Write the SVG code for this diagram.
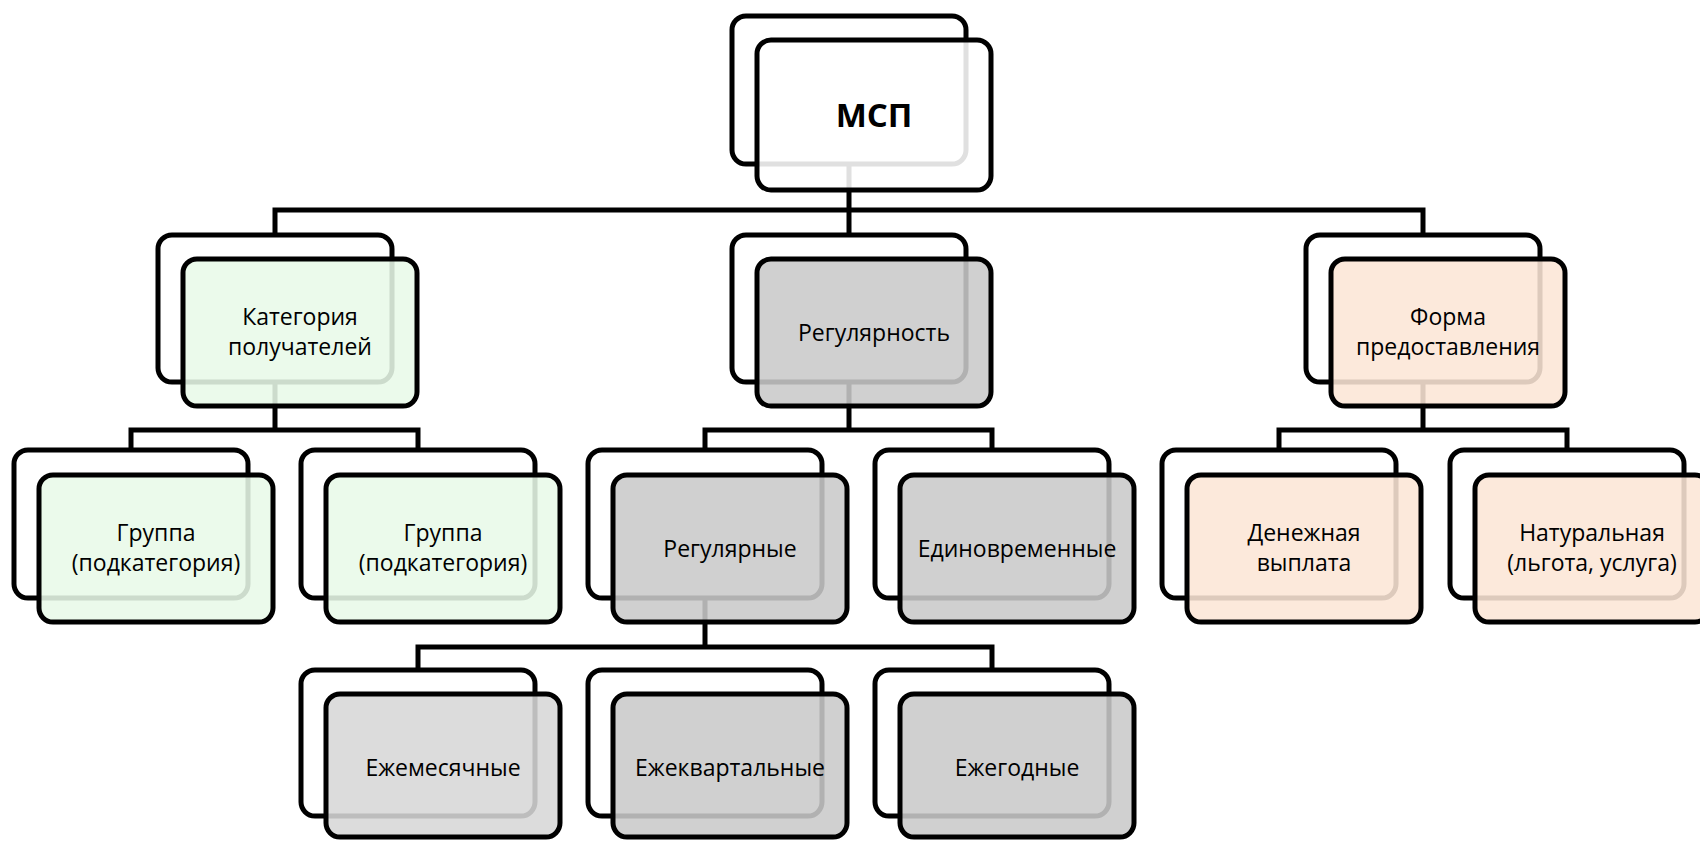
<svg xmlns="http://www.w3.org/2000/svg" width="1700" height="841" viewBox="0 0 1700 841">
<style>
.bk{fill:#ffffff;stroke:#000;stroke-width:5}
.fr{stroke:#000;stroke-width:5;fill-opacity:0.88}
.w{fill:#ffffff}.g{fill:#cacaca}.lg{fill:#d7d7d7}.gr{fill:#e8f9e8}.pc{fill:#fce6d6}
.conn{fill:none;stroke:#000;stroke-width:5;stroke-linejoin:miter}
text{font-family:"Open Sans","DejaVu Sans",sans-serif;font-size:23px;fill:#000;text-anchor:middle}
.big{font-size:33px;font-weight:bold}
</style>
<rect width="1700" height="841" fill="#fff"/>
<g id="connectors" class="conn">
<path d="M849 163V210M275 235V210H1423V235M849 210V235"/>
<path d="M275 382V430M131 450V430H418V450"/>
<path d="M849 382V430M705 450V430H992V450"/>
<path d="M1423 382V430M1279 450V430H1567V450"/>
<path d="M705 597V647M418 670V647H992V670"/>
</g>
<g id="msp"><rect class="bk" x="732" y="16" width="234" height="148" rx="14"/><rect class="fr w" x="757" y="40" width="234" height="150" rx="14"/><text class="big" x="874" y="127">МСП</text></g>
<g id="category"><rect class="bk" x="158" y="235" width="234" height="147" rx="14"/><rect class="fr gr" x="183" y="259" width="234" height="147" rx="14"/><text x="300" y="325">Категория</text><text x="300" y="355">получателей</text></g>
<g id="regularity"><rect class="bk" x="732" y="235" width="234" height="147" rx="14"/><rect class="fr g" x="757" y="259" width="234" height="147" rx="14"/><text x="874" y="341">Регулярность</text></g>
<g id="form"><rect class="bk" x="1306" y="235" width="234" height="147" rx="14"/><rect class="fr pc" x="1331" y="259" width="234" height="147" rx="14"/><text x="1448" y="325">Форма</text><text x="1448" y="355">предоставления</text></g>
<g id="group1"><rect class="bk" x="14" y="450" width="234" height="148" rx="14"/><rect class="fr gr" x="39" y="475" width="234" height="147" rx="14"/><text x="156" y="541">Группа</text><text x="156" y="571">(подкатегория)</text></g>
<g id="group2"><rect class="bk" x="301" y="450" width="234" height="148" rx="14"/><rect class="fr gr" x="326" y="475" width="234" height="147" rx="14"/><text x="443" y="541">Группа</text><text x="443" y="571">(подкатегория)</text></g>
<g id="regular"><rect class="bk" x="588" y="450" width="234" height="148" rx="14"/><rect class="fr g" x="613" y="475" width="234" height="147" rx="14"/><text x="730" y="557">Регулярные</text></g>
<g id="onetime"><rect class="bk" x="875" y="450" width="234" height="148" rx="14"/><rect class="fr g" x="900" y="475" width="234" height="147" rx="14"/><text x="1017" y="557">Единовременные</text></g>
<g id="money"><rect class="bk" x="1162" y="450" width="234" height="148" rx="14"/><rect class="fr pc" x="1187" y="475" width="234" height="147" rx="14"/><text x="1304" y="541">Денежная</text><text x="1304" y="571">выплата</text></g>
<g id="natural"><rect class="bk" x="1450" y="450" width="234" height="148" rx="14"/><rect class="fr pc" x="1475" y="475" width="234" height="147" rx="14"/><text x="1592" y="541">Натуральная</text><text x="1592" y="571">(льгота, услуга)</text></g>
<g id="monthly"><rect class="bk" x="301" y="670" width="234" height="146" rx="14"/><rect class="fr lg" x="326" y="694" width="234" height="143" rx="14"/><text x="443" y="776">Ежемесячные</text></g>
<g id="quarterly"><rect class="bk" x="588" y="670" width="234" height="146" rx="14"/><rect class="fr g" x="613" y="694" width="234" height="143" rx="14"/><text x="730" y="776">Ежеквартальные</text></g>
<g id="yearly"><rect class="bk" x="875" y="670" width="234" height="146" rx="14"/><rect class="fr g" x="900" y="694" width="234" height="143" rx="14"/><text x="1017" y="776">Ежегодные</text></g>
</svg>
